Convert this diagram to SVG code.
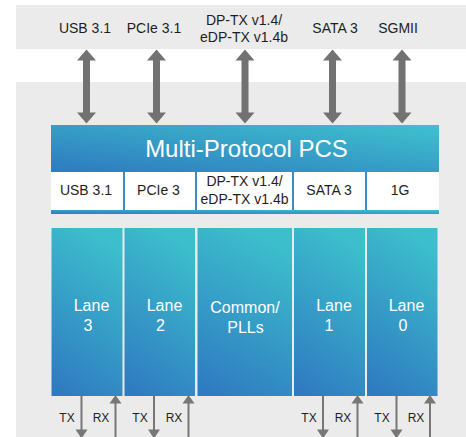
<svg xmlns="http://www.w3.org/2000/svg" width="466" height="437" viewBox="0 0 466 437">
<style>
.lbl{font-family:"Liberation Sans",Arial,sans-serif;font-size:14px;fill:#1e1e1e;text-anchor:middle}
.sm{font-family:"Liberation Sans",Arial,sans-serif;font-size:12px;fill:#1e1e1e;text-anchor:middle}
.wt{font-family:"Liberation Sans",Arial,sans-serif;font-size:16px;fill:#ffffff;text-anchor:middle}
.big{font-family:"Liberation Sans",Arial,sans-serif;font-size:24px;fill:#ffffff;text-anchor:middle}
.lane{fill:url(#gl)}
.div{stroke:#3a8cc9;stroke-width:2}
.ln{stroke:#777777;stroke-width:2;fill:none}
.hd{fill:#777777}
.dbl{fill:#727272}
</style>
<defs>
<linearGradient id="gh" x1="0" y1="1" x2="1" y2="0">
<stop offset="0" stop-color="#2e7ac0"/>
<stop offset="1" stop-color="#3ec2cd"/>
</linearGradient>
<linearGradient id="gl" x1="0.2" y1="1" x2="0.5" y2="0">
<stop offset="0" stop-color="#2f7bc1"/>
<stop offset="1" stop-color="#3cbecc"/>
</linearGradient>
<path id="da" d="M0,49.5 L9.5,60.5 L3.5,60.5 L3.5,112.5 L9.5,112.5 L0,123.5 L-9.5,112.5 L-3.5,112.5 L-3.5,60.5 L-9.5,60.5 Z"/>
</defs>
<rect width="466" height="437" fill="#ffffff"/>
<rect x="16" y="5" width="450" height="44" fill="#ebebeb"/>
<rect x="16" y="82" width="450" height="355" fill="#ebebeb"/>

<g id="top-labels">
<text class="lbl" x="85" y="33">USB 3.1</text>
<text class="lbl" x="154" y="33">PCIe 3.1</text>
<text class="lbl" x="244" y="25">DP-TX v1.4/</text>
<text class="lbl" x="244" y="42">eDP-TX v1.4b</text>
<text class="lbl" x="335" y="33">SATA 3</text>
<text class="lbl" x="398" y="33">SGMII</text>
</g>

<g id="connectors">
<use href="#da" class="dbl" x="86.5"/>
<use href="#da" class="dbl" x="156.5"/>
<use href="#da" class="dbl" x="245"/>
<use href="#da" class="dbl" x="332.5"/>
<use href="#da" class="dbl" x="402"/>
<path class="ln" d="M81.5,396V431M154,396V431M323,396V431M396.5,396V431"/>
<path class="hd" d="M75.5,429.5h12l-6,9zM148,429.5h12l-6,9zM317,429.5h12l-6,9zM390.5,429.5h12l-6,9z"/>
<path class="ln" d="M115.5,402V437M188.5,402V437M357.5,402V437M430,402V437"/>
<path class="hd" d="M115.5,395l6,8.5h-12zM188.5,395l6,8.5h-12zM357.5,395l6,8.5h-12zM430,395l6,8.5h-12z"/>
</g>

<g id="pcs">
<rect x="51" y="125" width="388" height="47" fill="url(#gh)"/>
<text class="big" x="246.5" y="157">Multi-Protocol PCS</text>
<rect x="51" y="172" width="388" height="38" fill="#ffffff"/>
<rect x="51" y="210" width="388" height="4" fill="url(#gh)"/>
<line class="div" x1="124" y1="172" x2="124" y2="210"/>
<line class="div" x1="196" y1="172" x2="196" y2="210"/>
<line class="div" x1="293" y1="172" x2="293" y2="210"/>
<line class="div" x1="366" y1="172" x2="366" y2="210"/>
<text class="lbl" x="86" y="195">USB 3.1</text>
<text class="lbl" x="158.5" y="195">PCIe 3</text>
<text class="lbl" x="244.5" y="186">DP-TX v1.4/</text>
<text class="lbl" x="244.5" y="203.5">eDP-TX v1.4b</text>
<text class="lbl" x="329" y="195">SATA 3</text>
<text class="lbl" x="400" y="195">1G</text>
</g>

<g id="lane3">
<rect class="lane" x="51.5" y="228" width="71" height="168"/>
<text class="wt" x="91.5" y="311">Lane</text>
<text class="wt" x="88" y="331">3</text>
<text class="sm" x="67" y="422">TX</text>
<text class="sm" x="101" y="422">RX</text>
</g>
<g id="lane2">
<rect class="lane" x="124.5" y="228" width="70.5" height="168"/>
<text class="wt" x="164.5" y="311">Lane</text>
<text class="wt" x="160.5" y="331">2</text>
<text class="sm" x="140" y="422">TX</text>
<text class="sm" x="174" y="422">RX</text>
</g>
<g id="common">
<rect class="lane" x="197.5" y="228" width="94.5" height="168"/>
<text class="wt" x="245" y="313">Common/</text>
<text class="wt" x="245.5" y="333">PLLs</text>
</g>
<g id="lane1">
<rect class="lane" x="294" y="228" width="71" height="168"/>
<text class="wt" x="334" y="311">Lane</text>
<text class="wt" x="329" y="331">1</text>
<text class="sm" x="309" y="422">TX</text>
<text class="sm" x="343" y="422">RX</text>
</g>
<g id="lane0">
<rect class="lane" x="367" y="228" width="70.5" height="168"/>
<text class="wt" x="406.5" y="311">Lane</text>
<text class="wt" x="403" y="331">0</text>
<text class="sm" x="382" y="422">TX</text>
<text class="sm" x="416" y="422">RX</text>
</g>
</svg>
